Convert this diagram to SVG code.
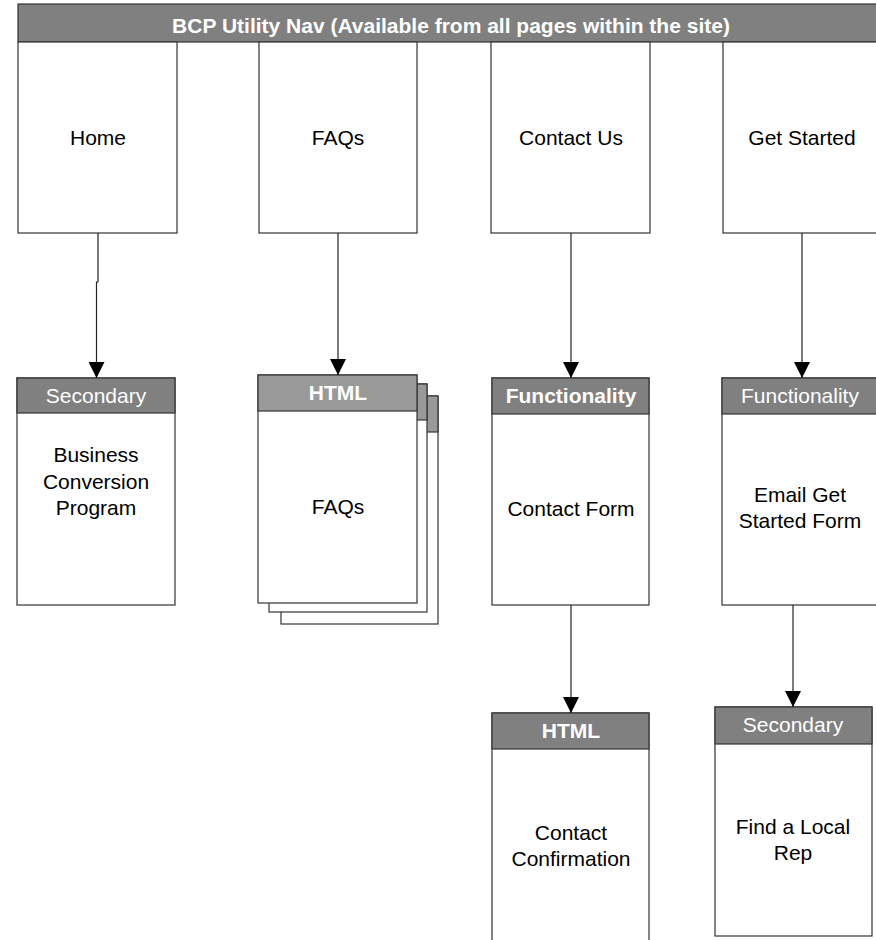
<svg xmlns="http://www.w3.org/2000/svg" width="876" height="940" viewBox="0 0 876 940">
<defs>
<style>
.box{fill:#fff;stroke:#333;stroke-width:1.2}
.hdr{fill:#808080;stroke:#333;stroke-width:1.2}
.hdr2{fill:#999;stroke:#333;stroke-width:1.2}
.t{font-family:"Liberation Sans",Arial,sans-serif;font-size:21px;fill:#000;text-anchor:middle}
.h{font-family:"Liberation Sans",Arial,sans-serif;font-size:21px;fill:#fff;text-anchor:middle}
.b{font-weight:bold}
.c{fill:none;stroke:#222;stroke-width:1.2}
</style>
<marker id="ah" markerUnits="userSpaceOnUse" markerWidth="16" markerHeight="16" viewBox="0 0 14 14" refX="14" refY="7" orient="auto">
<path d="M0,0 L14,7 L0,14 Z" fill="#000"/>
</marker>
</defs>
<g id="nav">
<rect x="18" y="4" width="862" height="38" class="hdr"/>
<text x="451" y="33" class="h b">BCP Utility Nav (Available from all pages within the site)</text>
</g>
<g id="home"><rect x="18" y="42" width="159" height="191" class="box"/><text x="98" y="145" class="t">Home</text></g>
<g id="faqs-top"><rect x="259" y="42" width="158" height="191" class="box"/><text x="338" y="145" class="t">FAQs</text></g>
<g id="contact-us"><rect x="491" y="42" width="159" height="191" class="box"/><text x="571" y="145" class="t">Contact Us</text></g>
<g id="get-started"><rect x="723" y="42" width="160" height="191" class="box"/><text x="802" y="145" class="t">Get Started</text></g>
<g id="bcp">
<rect x="17" y="378" width="158" height="227" class="box"/>
<rect x="17" y="378" width="158" height="35" class="hdr"/>
<text x="96" y="403" class="h">Secondary</text>
<text x="96" y="462" class="t">Business</text>
<text x="96" y="489" class="t">Conversion</text>
<text x="96" y="515" class="t">Program</text>
</g>
<g id="faqs">
<rect x="281" y="396" width="157" height="228" class="box"/>
<rect x="281" y="396" width="157" height="36" class="hdr2"/>
<rect x="269" y="384" width="158" height="228" class="box"/>
<rect x="269" y="384" width="158" height="36" class="hdr2"/>
<rect x="258" y="375" width="159" height="228" class="box"/>
<rect x="258" y="375" width="159" height="36" class="hdr2"/>
<text x="338" y="400" class="h b">HTML</text>
<text x="338" y="514" class="t">FAQs</text>
</g>
<g id="contact-form">
<rect x="492" y="378" width="157" height="227" class="box"/>
<rect x="492" y="378" width="157" height="36" class="hdr"/>
<text x="571" y="403" class="h b">Functionality</text>
<text x="571" y="516" class="t">Contact Form</text>
</g>
<g id="email-form">
<rect x="722" y="378" width="160" height="227" class="box"/>
<rect x="722" y="378" width="160" height="36" class="hdr"/>
<text x="800" y="403" class="h">Functionality</text>
<text x="800" y="502" class="t">Email Get</text>
<text x="800" y="528" class="t">Started Form</text>
</g>
<g id="contact-confirm">
<rect x="492" y="713" width="157" height="240" class="box"/>
<rect x="492" y="713" width="157" height="36" class="hdr"/>
<text x="571" y="738" class="h b">HTML</text>
<text x="571" y="840" class="t">Contact</text>
<text x="571" y="866" class="t">Confirmation</text>
</g>
<g id="local-rep">
<rect x="715" y="707" width="157" height="229" class="box"/>
<rect x="715" y="707" width="157" height="37" class="hdr"/>
<text x="793" y="732" class="h">Secondary</text>
<text x="793" y="834" class="t">Find a Local</text>
<text x="793" y="860" class="t">Rep</text>
</g>
<g id="connectors">
<path d="M98,233 V282 H96.5 V378" class="c" marker-end="url(#ah)"/>
<path d="M338,233 V375" class="c" marker-end="url(#ah)"/>
<path d="M571,233 V378" class="c" marker-end="url(#ah)"/>
<path d="M802,233 V378" class="c" marker-end="url(#ah)"/>
<path d="M571,605 V713" class="c" marker-end="url(#ah)"/>
<path d="M793,605 V707" class="c" marker-end="url(#ah)"/>
</g>
</svg>
